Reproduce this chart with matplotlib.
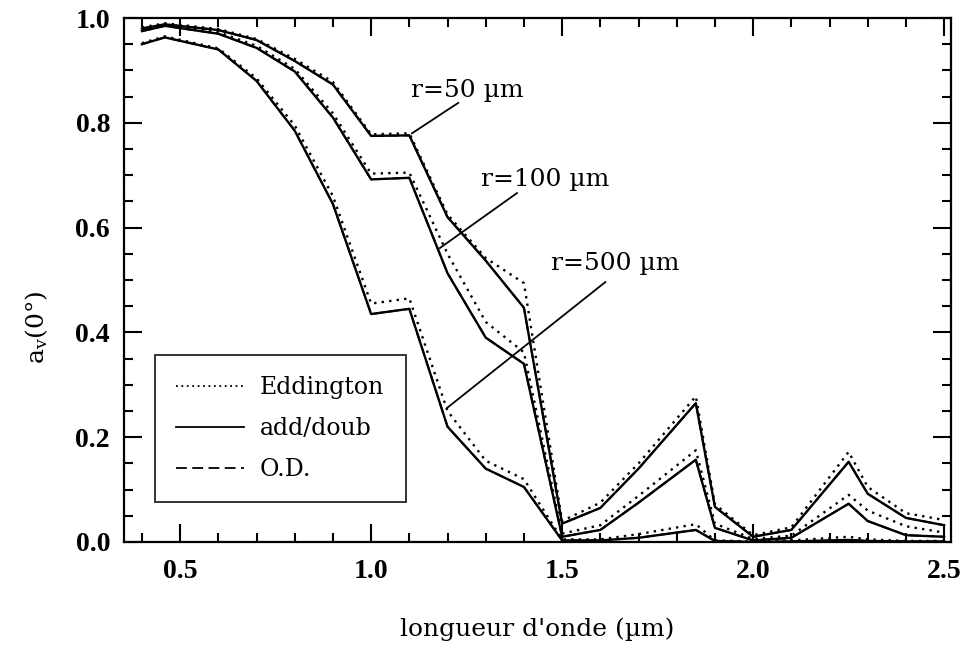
import matplotlib
matplotlib.use("Agg")
import matplotlib.pyplot as plt
from matplotlib.ticker import MultipleLocator, FormatStrFormatter
from matplotlib.lines import Line2D

plt.rcParams['font.family'] = ['DejaVu Serif']
plt.rcParams['mathtext.fontset'] = 'dejavuserif'

# wavelength (µm)
wavelength = [0.40, 0.46, 0.60, 0.70, 0.80, 0.90, 1.00, 1.10, 1.20, 1.30, 1.40,
              1.50, 1.60, 1.70, 1.85, 1.90, 2.00, 2.10, 2.25, 2.30, 2.40, 2.50]

# r = 50 µm
r50_adddoub = [0.980, 0.988, 0.977, 0.958, 0.918, 0.873, 0.775, 0.776, 0.620, 0.537, 0.447,
               0.035, 0.065, 0.140, 0.265, 0.067, 0.010, 0.023, 0.153, 0.092, 0.046, 0.032]
r50_eddington = [0.982, 0.990, 0.979, 0.960, 0.922, 0.878, 0.778, 0.780, 0.625, 0.542, 0.494,
                 0.040, 0.075, 0.150, 0.278, 0.072, 0.013, 0.028, 0.172, 0.105, 0.055, 0.042]
r50_od = [0.980, 0.988, 0.977, 0.958, 0.918, 0.873, 0.775, 0.776, 0.620, 0.537, 0.447,
          0.035, 0.065, 0.140, 0.265, 0.067, 0.010, 0.023, 0.153, 0.092, 0.046, 0.032]

# r = 100 µm
r100_adddoub = [0.975, 0.985, 0.970, 0.943, 0.898, 0.810, 0.692, 0.695, 0.513, 0.390, 0.340,
                0.010, 0.023, 0.075, 0.157, 0.027, 0.003, 0.008, 0.073, 0.040, 0.013, 0.010]
r100_eddington = [0.977, 0.987, 0.973, 0.947, 0.903, 0.818, 0.703, 0.705, 0.550, 0.420, 0.362,
                  0.016, 0.032, 0.088, 0.175, 0.035, 0.006, 0.012, 0.090, 0.060, 0.030, 0.018]
r100_od = [0.975, 0.985, 0.970, 0.943, 0.898, 0.810, 0.692, 0.695, 0.513, 0.390, 0.340,
           0.010, 0.023, 0.075, 0.157, 0.027, 0.003, 0.008, 0.073, 0.040, 0.013, 0.010]

# r = 500 µm
r500_adddoub = [0.950, 0.963, 0.940, 0.880, 0.785, 0.645, 0.435, 0.445, 0.220, 0.140, 0.105,
                0.003, 0.003, 0.008, 0.023, 0.002, 0.000, 0.001, 0.004, 0.002, 0.001, 0.001]
r500_eddington = [0.952, 0.965, 0.942, 0.885, 0.795, 0.660, 0.455, 0.465, 0.250, 0.155, 0.120,
                  0.005, 0.005, 0.015, 0.034, 0.003, 0.001, 0.003, 0.010, 0.005, 0.002, 0.002]
r500_od = [0.950, 0.963, 0.940, 0.880, 0.785, 0.645, 0.435, 0.445, 0.220, 0.140, 0.105,
           0.003, 0.003, 0.008, 0.023, 0.002, 0.000, 0.001, 0.004, 0.002, 0.001, 0.001]

radius_labels = ["r=50 µm", "r=100 µm", "r=500 µm"]
legend_labels = ["Eddington", "add/doub", "O.D."]

fig = plt.figure(figsize=(9.61, 6.48), dpi=100)
ax = fig.add_axes([0.129, 0.1636, 0.8606, 0.8086])

lw = 1.7
for edd, add, od in [(r50_eddington, r50_adddoub, r50_od),
                     (r100_eddington, r100_adddoub, r100_od),
                     (r500_eddington, r500_adddoub, r500_od)]:
    ax.plot(wavelength, edd, color='black', lw=lw, linestyle=(0, (1, 2.2)))
    ax.plot(wavelength, add, color='black', lw=lw, linestyle='-')
    ax.plot(wavelength, od, color='black', lw=lw * 0.8, linestyle=(0, (5, 3)))

# radius annotations with leader lines (line start, line end, text baseline centre)
ann = [((1.107, 0.780), (1.228, 0.838), (1.251, 0.849)),
       ((1.180, 0.561), (1.382, 0.666), (1.455, 0.679)),
       ((1.199, 0.256), (1.613, 0.496), (1.640, 0.519))]
for lab, (p0, p1, pt) in zip(radius_labels, ann):
    ax.plot([p0[0], p1[0]], [p0[1], p1[1]], color='black', lw=1.3)
    ax.text(pt[0], pt[1], lab, fontsize=18, ha='center', va='baseline')

ax.set_xlim(0.353, 2.518)
ax.set_ylim(0.0, 1.0)
ax.xaxis.set_major_locator(MultipleLocator(0.5))
ax.xaxis.set_minor_locator(MultipleLocator(0.1))
ax.yaxis.set_major_locator(MultipleLocator(0.2))
ax.yaxis.set_minor_locator(MultipleLocator(0.05))
ax.xaxis.set_major_formatter(FormatStrFormatter('%.1f'))
ax.yaxis.set_major_formatter(FormatStrFormatter('%.1f'))
ax.tick_params(which='both', direction='in', top=True, right=True, width=1.5)
ax.tick_params(which='major', length=13)
ax.tick_params(which='minor', length=6.5)
ax.tick_params(axis='x', which='major', pad=12)
ax.tick_params(axis='y', which='major', pad=10)
for t in ax.get_xticklabels() + ax.get_yticklabels():
    t.set_fontfamily(['Liberation Serif', 'DejaVu Serif'])
    t.set_fontweight('bold')
    t.set_fontsize(20)
for s in ax.spines.values():
    s.set_linewidth(1.6)

ax.set_xlabel("longueur d'onde (µm)", fontsize=18, labelpad=24)
ax.set_ylabel(r"a$_\mathrm{v}$(0°)", fontsize=18)
ax.yaxis.set_label_coords(-0.089, 0.41)

handles = [Line2D([], [], color='black', lw=1.3, linestyle=(0, (1, 2))),
           Line2D([], [], color='black', lw=1.3, linestyle='-'),
           Line2D([], [], color='black', lw=1.3, linestyle=(0, (6, 3)))]
leg = ax.legend(handles, legend_labels, loc='lower left', bbox_to_anchor=(0.0375, 0.076),
                fontsize=17, frameon=True, fancybox=False, edgecolor='black',
                handlelength=2.85, handletextpad=0.7, borderpad=0.9, labelspacing=0.75,
                borderaxespad=0)
leg.get_frame().set_linewidth(1.4)

fig.savefig("out.png", dpi=100)
